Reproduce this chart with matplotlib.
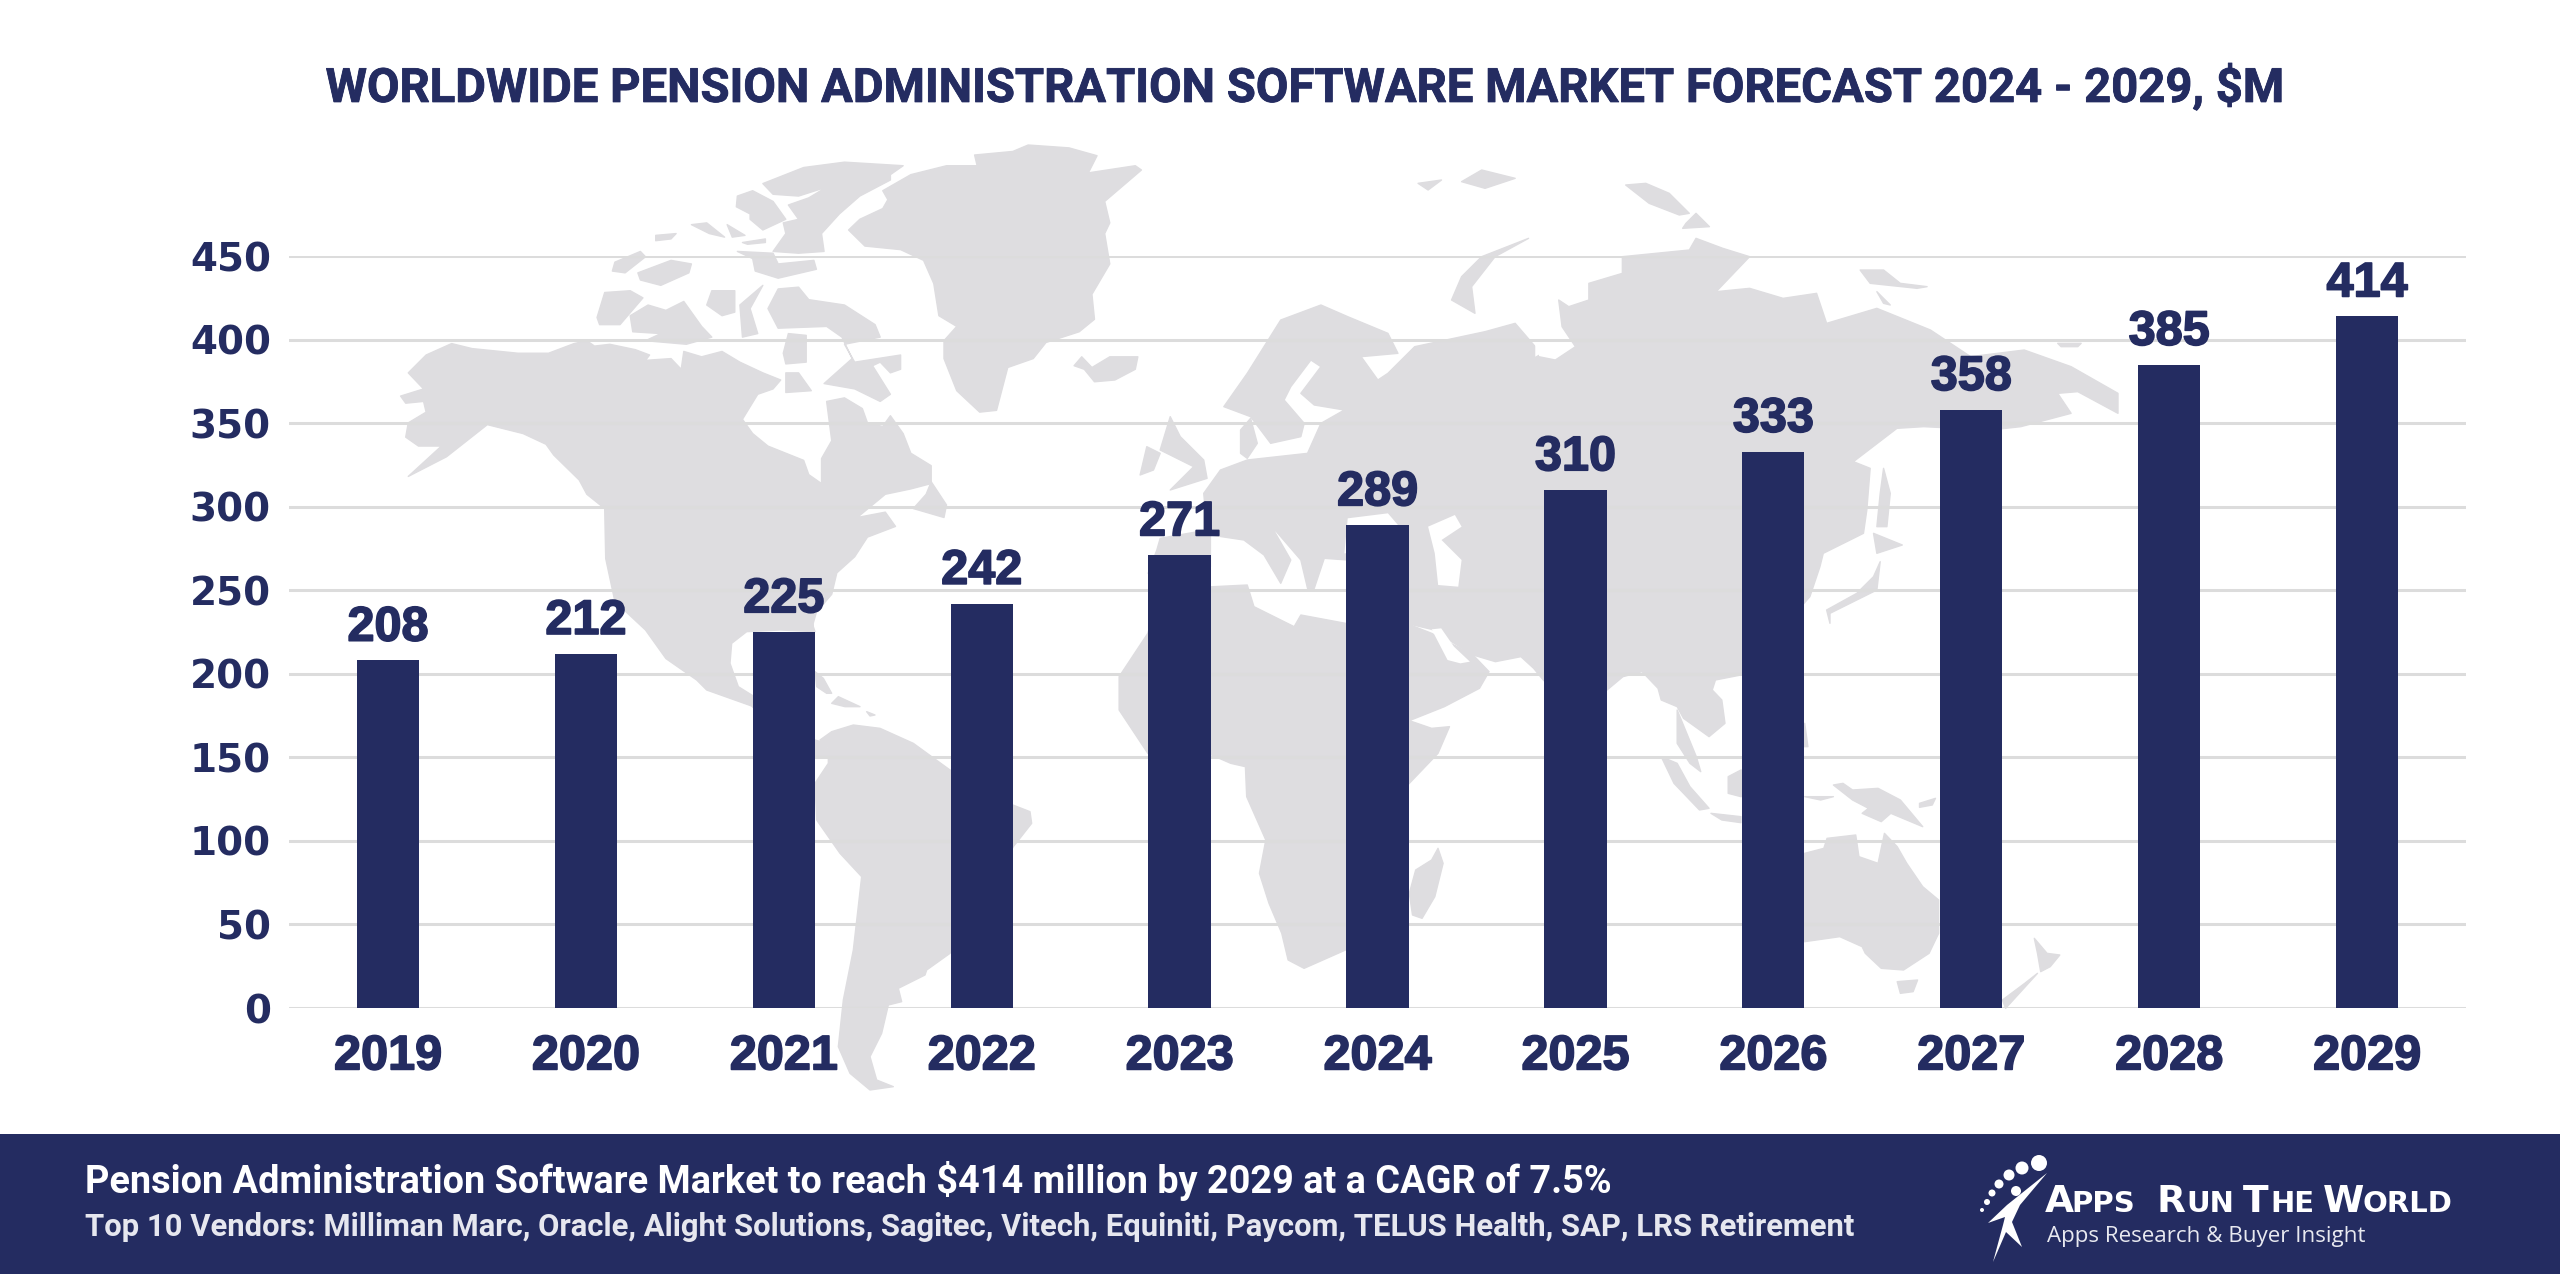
import matplotlib
matplotlib.use("Agg")
import matplotlib.pyplot as plt
import matplotlib.patheffects as pe
from matplotlib.patches import Polygon, Circle, Rectangle

years = ["2019", "2020", "2021", "2022", "2023", "2024", "2025", "2026", "2027", "2028", "2029"]
market = [208, 212, 225, 242, 271, 289, 310, 333, 358, 385, 414]
y_ticks = [0, 50, 100, 150, 200, 250, 300, 350, 400, 450]

title = "WORLDWIDE PENSION ADMINISTRATION SOFTWARE MARKET FORECAST 2024 - 2029, $M"
footer_1 = "Pension Administration Software Market to reach $414 million by 2029 at a CAGR of 7.5%"
footer_2 = "Top 10 Vendors: Milliman Marc, Oracle, Alight Solutions, Sagitec, Vitech, Equiniti, Paycom, TELUS Health, SAP, LRS Retirement"

NAVY = "#242C61"
MAP = "#DEDDE0"
GRID = "#DCDCDC"
W, H = 2560, 1274


def z1(pts):
    return [(370 + x / 1.96, 130 + y / 2.8) for x, y in pts]


def z2(pts):
    return [(1120 + x / 1.493, 160 + y / 3) for x, y in pts]


def z3(pts):
    return [(1100 + x / 1.568, 600 + y / 3) for x, y in pts]


def z4(pts):
    return [(680 + x / 3, 600 + y / 3) for x, y in pts]


# background map outlines, traced by eye
north_america = z1([(160,598),(200,612),(290,625),(350,625),(400,598),(425,590),(440,605),(470,600),(520,615),(548,630),
    (540,645),(590,640),(610,670),(615,620),(650,635),(690,620),(725,650),(770,680),(805,700),(790,725),(760,740),(730,810),
    (750,850),(780,885),(850,925),(860,965),(885,990),(885,920),(905,870),(895,760),(930,750),(965,780),(975,820),(1005,830),
    (1020,800),(1045,850),(1060,905),(1100,940),(1100,990),(1060,1005),(1010,1020),(955,1085),(1010,1070),(1030,1110),(975,1140),
    (950,1195),(915,1240),(905,1300),(875,1350),(865,1400)]) + \
    z4([(390,50),(405,95),(300,90),(200,95),(155,130),(150,190),(175,260),(215,285),(300,330),(405,420),(440,430),(445,470),
    (405,470),(300,400),(215,318),(80,270),(50,240)]) + \
    z1([(580,1480),(540,1400),(480,1320),(462,1200),(460,1060),(425,1020),(410,980),(360,910),(345,880),(300,850),(230,825),
    (190,870),(150,915),(75,970),(140,885),(95,885),(70,860),(75,820),(110,790),(105,760),(70,765),(60,745),(105,725),(75,680),(110,630)])
greenland = z1([(1005,170),(1060,125),(1130,100),(1190,100),(1185,70),(1260,60),(1290,42),(1370,50),(1425,72),(1408,120),(1500,100),
    (1512,112),(1440,200),(1450,260),(1440,290),(1450,375),(1415,460),(1420,530),(1390,565),(1325,595),(1300,640),(1250,665),(1228,785),
    (1195,790),(1150,730),(1125,640),(1125,590),(1150,550),(1115,520),(1105,430),(1085,365),(1040,335),(970,325),(938,280),(960,250),(1005,220),(1015,195)])
iceland = z1([(1380,660),(1395,635),(1415,665),(1450,635),(1505,635),(1500,670),(1460,700),(1420,705),(1400,670)])
newfoundland = z1([(1100,985),(1130,1050),(1125,1085),(1065,1060),(1090,1020)])
baffin = z1([(780,500),(800,445),(840,440),(860,475),(930,490),(990,545),(1000,580),(930,600),(950,650),(1040,630),(1040,670),(1020,680),
    (1000,650),(985,660),(1020,740),(1000,760),(950,725),(890,710),(945,640),(925,580),(895,550),(800,555)])
victoria = z1([(510,520),(545,490),(580,505),(615,480),(650,550),(670,580),(620,600),(540,590),(570,570),(515,565)])
banks = z1([(460,455),(510,450),(535,470),(490,545),(450,545),(445,525)])
somerset = z1([(725,490),(770,435),(745,500),(760,570),(730,580)])
boothia = z1([(820,570),(855,575),(855,650),(815,655),(810,625)])
devon = z1([(720,340),(790,345),(800,375),(870,365),(875,390),(800,415),(755,395),(750,360)])
ellesmere = z1([(770,150),(850,105),(930,90),(1045,100),(1020,125),(1020,140),(960,185),(920,235),(885,290),(890,340),(840,345),(790,340),
    (815,290),(810,260),(840,250),(820,210),(860,190),(895,160),(840,185),(790,180)])
axel = z1([(720,185),(750,170),(790,200),(815,250),(770,280),(745,250),(745,235),(718,215)])
parry = z1([(480,370),(530,340),(540,355),(500,400),(475,395)])
melville = z1([(525,400),(590,365),(630,375),(625,400),(570,435),(530,420)])
small_1 = z1([(630,265),(660,260),(695,300),(665,290)])
small_2 = z1([(700,265),(735,295),(710,300)])
small_3 = z1([(730,315),(775,305),(775,315),(740,320)])
small_4 = z1([(560,295),(600,290),(590,305),(560,310)])
small_5 = z1([(670,450),(715,450),(715,510),(690,520),(660,490)])
southampton = z1([(815,680),(840,680),(865,730),(815,735)])
cuba = z4([(405,215),(430,235),(455,280),(440,280),(410,260)])
hispaniola = z4([(475,290),(540,320),(495,320),(455,310)])
puerto_rico = z4([(560,335),(585,345),(570,348)])
south_america = z4([(455,395),(520,375),(600,385),(700,430),(810,510),(960,600),(1050,635),(1055,670),(1000,740),(810,1060),(740,1110),
    (735,1125),(655,1165),(665,1205),(625,1215),(605,1300),(570,1370),(590,1440),(640,1460),(570,1470),(510,1420),(475,1340),(490,1200),
    (520,1050),(545,830),(480,760),(410,660),(405,550),(445,490),(445,440),(420,420)])
africa = z3([(30,230),(75,100)]) + z2([(60,1290)]) + z2([(140,1280),(190,1275),(200,1340),(260,1400)]) + \
    z3([(315,45),(385,70),(480,70),(520,100),(585,165),(610,215),(595,265),(540,320),(485,362),(520,385),(548,380),(530,460),(480,560),
    (385,1050),(320,1105),(295,1080),(285,1000),(265,910),(250,820),(260,720),(230,590),(228,500),(205,490),(175,465),(75,460),(30,330)])
madagascar = z3([(530,745),(538,790),(525,890),(505,955),(490,945),(485,880),(495,810),(520,780)])
eurasia = z2([(55,1170),(60,1135),(130,1110),(125,1000),(150,930),(190,900),(280,880),(300,790),(335,750),(290,735),(270,700),(300,620),
    (285,600),(255,680),(245,720),(275,790),(270,830),(225,850),(195,770),(155,740),(190,640),(240,480),(300,435),(340,470),(400,520),
    (415,580),(360,590),(385,660),(400,640),(440,560),(545,515),(590,490),(620,560),(625,590),(650,600),(680,560),(660,500),(655,420),
    (670,440),(700,420),(700,370),(750,340),(750,290),(850,270),(860,235),(900,265),(940,290),(890,395),(940,385),(990,415),(1040,400),
    (1055,490),(1130,445),(1210,510),(1270,590),(1350,570),(1420,620),(1490,700),(1490,760),(1430,695),(1400,700),(1420,760),(1345,800),
    (1300,810),(1200,800),(1160,805),(1095,905),(1120,925),(1115,1050),(1110,1120),(1050,1180),(1045,1220),(1030,1310)]) + \
    z3([(1005,225),(965,240),(960,270),(975,300),(980,370),(955,410),(915,355),(905,320),(880,300),(875,265),(850,215),(820,230),(795,270),
    (745,330),(695,240),(680,205),(660,170),(620,185),(585,165),(520,88),(480,70)]) + \
    z2([(340,1290),(340,1200),(305,1195),(290,1285),(280,1285),(270,1200),(225,1095),(255,1200),(240,1270),(215,1185),(185,1140),(135,1125),
    (135,1220),(42,1240)])
denmark = z2([(180,810),(195,775),(205,850),(190,895),(180,880)])
novaya = z2([(610,235),(540,290),(510,350),(495,420),(530,460),(525,380),(560,290)])
franz = z2([(445,70),(480,60),(460,90)])
franz_2 = z2([(510,65),(540,30),(590,55),(545,85)])
severnaya = z2([(755,75),(785,70),(820,100),(850,160),(835,165),(790,130)])
severnaya_2 = z2([(845,190),(860,160),(880,200),(840,205)])
siberian = z2([(1105,330),(1140,330),(1165,370),(1205,380),(1190,385),(1120,370)])
siberian_2 = z2([(1130,395),(1150,435),(1140,430)])
wrangel = z2([(1400,550),(1435,550),(1430,560),(1405,560)])
sakhalin = z2([(1140,925),(1150,1000),(1145,1100),(1130,1100),(1135,1000)])
hokkaido = z2([(1125,1120),(1168,1155),(1130,1180)])
honshu = z2([(1135,1205),(1130,1290),(1090,1330),(1060,1360),(1060,1390),(1055,1350),(1100,1300),(1125,1250)])
uk = z2([(75,770),(90,830),(125,900),(130,955),(75,990),(110,920),(60,870)])
ireland = z2([(40,860),(60,880),(50,930),(30,945)])
malaya = z3([(905,330),(935,470),(942,515),(925,490),(905,430)])
sumatra = z3([(880,470),(905,490),(925,560),(955,625),(940,630),(900,550)])
java = z3([(958,640),(1005,650),(1005,668),(975,660)])
borneo = z3([(985,530),(1005,510),(1040,530),(1040,580),(1005,590),(985,580)])
sulawesi = z3([(1105,590),(1150,590),(1130,600)])
philippines = z3([(1105,370),(1110,440),(1103,440)])
new_guinea = z3([(1150,555),(1165,550),(1180,570),(1220,565),(1255,600),(1290,680),(1240,640),(1225,665),(1195,640),(1205,625),(1180,600)])
new_britain = z3([(1285,610),(1310,595),(1305,615),(1285,622)])
australia = z3([(1105,760),(1135,745),(1140,715),(1185,705),(1190,770),(1220,790),(1230,700),(1250,740),(1265,790),(1290,860),(1315,900),
    (1315,1000),(1300,1060),(1260,1110),(1225,1105),(1200,1060),(1195,1040),(1160,1010),(1105,1025),(1030,1000),(1050,800)])
tasmania = z3([(1250,1145),(1282,1140),(1275,1175),(1255,1180)])
nz_north = z3([(1465,1015),(1485,1060),(1505,1065),(1490,1100),(1475,1115),(1470,1060)])
nz_south = z3([(1470,1120),(1420,1225),(1415,1200),(1450,1150)])
land = [north_america, greenland, iceland, newfoundland, baffin, victoria, banks, somerset, boothia, devon, ellesmere, axel,
    parry, melville, small_1, small_2, small_3, small_4, small_5, southampton, cuba, hispaniola, puerto_rico, south_america,
    africa, madagascar, eurasia, denmark, novaya, franz, franz_2, severnaya, severnaya_2, siberian, siberian_2, wrangel, sakhalin,
    hokkaido, honshu, uk, ireland, malaya, sumatra, java, borneo, sulawesi, philippines, new_guinea, new_britain, australia,
    tasmania, nz_north, nz_south]

# seas cut out of the land shapes
red_sea = z3([(520,88),(535,85),(555,140),(580,185),(565,190),(545,180)])
caspian = z2([(460,1100),(500,1065),(510,1100),(480,1140),(510,1200),(505,1280),(475,1275),(470,1180)])
black_sea = z2([(335,1180),(340,1075),(400,1060),(430,1130),(430,1170)])
ob_gulf = z2([(605,480),(620,390),(635,365),(632,470),(645,560),(620,590),(620,530)])
baikal = z3([(985,250),(995,255),(990,275),(982,270)])
seas = [red_sea, caspian, black_sea, ob_gulf, baikal]

fig = plt.figure(figsize=(25.6, 12.74), dpi=100, facecolor="white")

# background layer in picture pixels
bg = fig.add_axes([0, 0, 1, 1])
bg.set_xlim(0, W)
bg.set_ylim(H, 0)
bg.axis("off")
for shape in land:
    bg.add_patch(Polygon(shape, closed=True, fc=MAP, ec=MAP, lw=1, joinstyle="round"))
for shape in seas:
    bg.add_patch(Polygon(shape, closed=True, fc="white", ec="none"))

ax = fig.add_axes([289 / W, 1 - 1008 / H, (2466 - 289) / W, (1008 - 256) / H])
ax.patch.set_alpha(0)
pos = list(range(len(years)))
ax.bar(pos, market, width=0.315, color=NAVY, zorder=3)
ax.set_xlim(-0.5, len(years) - 0.5)
ax.set_ylim(0, 450)
ax.set_yticks(y_ticks)
ax.set_xticks(pos)
ax.set_xticklabels(years)
ax.grid(axis="y", color=GRID, lw=2.2, zorder=1)
ax.set_axisbelow(True)
for s in ax.spines.values():
    s.set_visible(False)
ax.tick_params(length=0)
ax.tick_params(axis="y", pad=13)
ax.tick_params(axis="x", pad=19)
thick = [pe.withStroke(linewidth=1.2, foreground=NAVY)]
for t in ax.get_yticklabels():
    t.set(fontsize=28, family="DejaVu Sans", fontweight="bold", color=NAVY)
for t in ax.get_xticklabels():
    t.set(fontsize=35, family="Liberation Sans", fontweight="bold", color=NAVY, path_effects=thick)
for p, v in zip(pos, market):
    ax.annotate(str(v), (p, v), xytext=(0, 7), textcoords="offset points", ha="center", va="bottom",
                fontsize=35, family="Liberation Sans", fontweight="bold", color=NAVY, zorder=4, path_effects=thick)

fig.text(800 / 1568, 1 - 88 / H, title, ha="center", va="center", fontsize=34, family="Roboto", fontweight="bold",
         color=NAVY, path_effects=[pe.withStroke(linewidth=0.6, foreground=NAVY)])

# footer band and logo
fg = fig.add_axes([0, 0, 1, 1])
fg.set_xlim(0, W)
fg.set_ylim(H, 0)
fg.axis("off")
fg.patch.set_alpha(0)
fg.add_patch(Rectangle((0, 1134), W, H - 1134, fc=NAVY, ec="none"))
fg.text(85, 1181, footer_1, color="white", fontsize=27.3, family="Roboto", fontweight="bold", va="center")
fg.text(85, 1227, footer_2, color="#E6E7EF", fontsize=22.3, family="Roboto", fontweight="bold", va="center")

for x, y, r in [(2039,1163,8),(2022,1168,6.5),(2009,1175,5.5),(1999,1184,4.5),(1992,1193,3.5),(1987,1202,3),(1982,1210,2),(2016,1191,5)]:
    fg.add_patch(Circle((x, y), r, fc="white", ec="none"))
fg.add_patch(Polygon([(2047,1173),(2020,1205),(2012,1222),(2022,1247),(2006,1232),(1993,1262),(2003,1225),(2005,1217),
    (1988,1223),(2007,1205)], closed=True, fc="white", ec="none"))
logo = [("A",2045,27),("PPS",2071,21),("R",2157,27),("UN",2186,21),("T",2243,27),("HE",2270,21),("W",2323,27),("ORLD",2363,21)]
for s, x, size in logo:
    fg.text(x, 1212, s, color="white", fontsize=size, family="DejaVu Sans", fontweight="bold", va="baseline")
fg.text(2047, 1242, "Apps Research & Buyer Insight", color="#E8E9F0", fontsize=16.1, family="Open Sans", va="baseline")

fig.savefig("out.png", dpi=100)
